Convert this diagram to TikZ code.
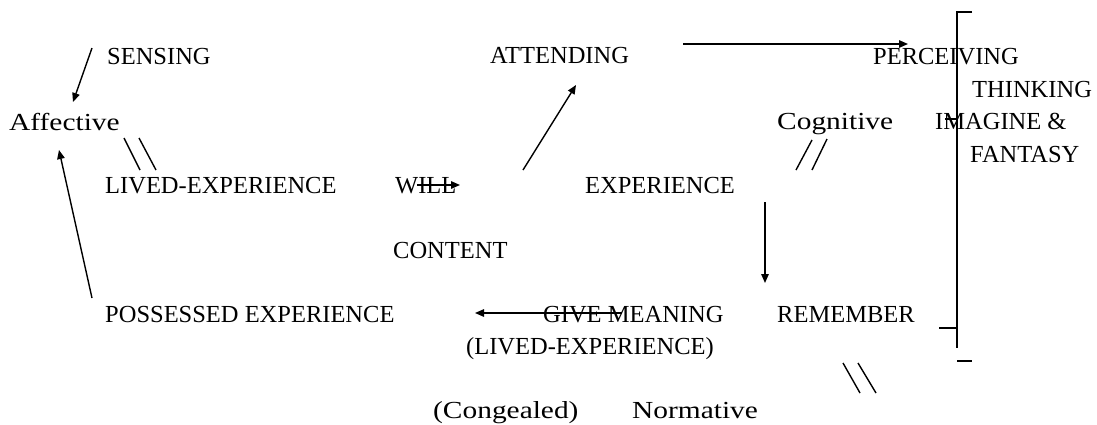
\documentclass[tikz,border=0pt]{standalone}
\usepackage{fontspec}
\setmainfont{Liberation Serif}
\newfontfamily\widefont[FakeStretch=1.2]{Liberation Serif}
\usetikzlibrary{arrows.meta}
\begin{document}
\begin{tikzpicture}[x=1pt,y=-1pt,
  lbl/.style={anchor=base west, inner sep=0pt, font=\fontsize{24.5}{29}\selectfont},
  wlbl/.style={lbl, font=\fontsize{24.5}{29}\widefont},
  ln/.style={line width=1.4pt},
  arr/.style={ln,-{Triangle[length=9pt,width=7.5pt]}}]
\useasboundingbox (0,0) rectangle (1097,424);
% labels
\node[lbl] (sensing) at (107,64) {SENSING};
\node[wlbl] (affective) at (9,130) {Affective};
\node[lbl] (lived) at (105,193) {LIVED-EXPERIENCE};
\node[lbl] (will) at (395,193) {WILL};
\node[lbl] (attending) at (490,63) {ATTENDING};
\node[lbl] (experience) at (585,193) {EXPERIENCE};
\node[lbl] (perceiving) at (873,64) {PERCEIVING};
\node[lbl] (thinking) at (972,97) {THINKING};
\node[wlbl] (cognitive) at (777,129) {Cognitive};
\node[lbl] (imagine) at (935,129) {IMAGINE \&};
\node[lbl] (fantasy) at (970,162) {FANTASY};
\node[lbl] (content) at (393,258) {CONTENT};
\node[lbl] (possessed) at (105,322) {POSSESSED EXPERIENCE};
\node[lbl] (givemeaning) at (543,322) {GIVE MEANING};
\node[lbl] (remember) at (777,322) {REMEMBER};
\node[lbl] (livedp) at (466,354) {(LIVED-EXPERIENCE)};
\node[wlbl] (congealed) at (433,418) {(Congealed)};
\node[wlbl] (normative) at (632,418) {Normative};
% connector end points
\coordinate (s1) at (92,48);
\coordinate (s2) at (73,102);
\coordinate (p1) at (92,298);
\coordinate (p2) at (59,150);
\coordinate (w1) at (417,185);
\coordinate (w2) at (460,185);
\coordinate (a1) at (523,170);
\coordinate (a2) at (576,85);
\coordinate (h1) at (683,44);
\coordinate (h2) at (908,44);
\coordinate (d1) at (765,202);
\coordinate (d2) at (765,283);
\coordinate (g1) at (622,313);
\coordinate (g2) at (475,313);
% arrows
\draw[arr] (s1) -- (s2);
\draw[arr] (p1) -- (p2);
\draw[arr] (w1) -- (w2);
\draw[arr] (a1) -- (a2);
\draw[arr] (h1) -- (h2);
\draw[arr] (d1) -- (d2);
\draw[arr] (g1) -- (g2);
% double slashes
\draw[ln] (124,138) -- (140,170) (139,138) -- (156,170);
\draw[ln] (796,170) -- (812,140) (812,170) -- (827,139);
\draw[ln] (843,363) -- (860,393) (858,363) -- (876,393);
% bracket
\draw[ln] (972,12) -- (957,12) -- (957,348);
\draw[ln] (939,328) -- (957,328);
\draw[ln] (957,361) -- (972,361);
\draw[ln] (945,119) -- (957,119);
\end{tikzpicture}
\end{document}
